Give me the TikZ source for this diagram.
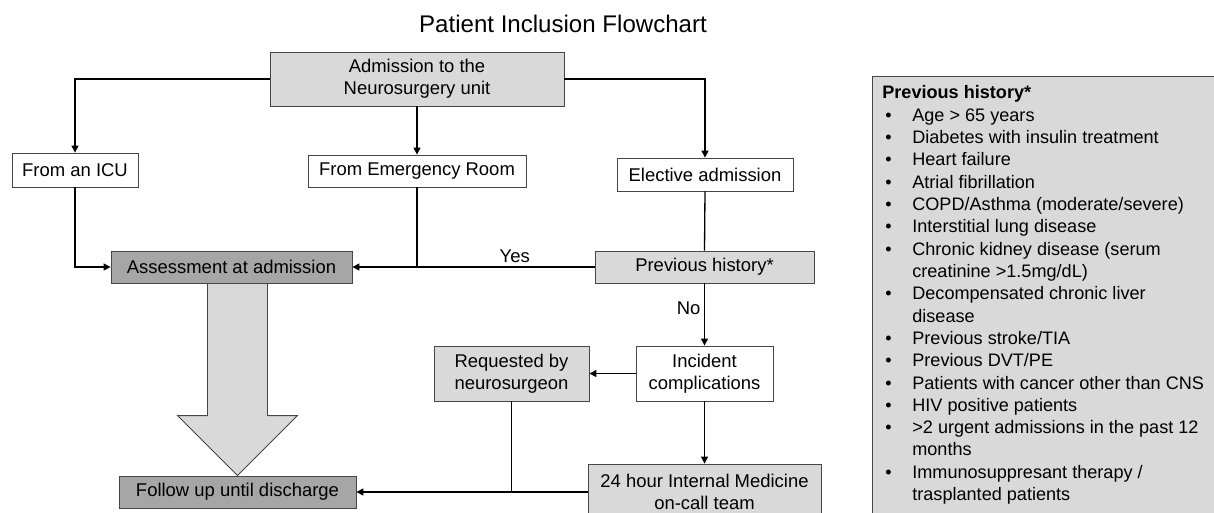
\documentclass[tikz,border=0pt]{standalone}
\usepackage{fontspec}
\setmainfont{Liberation Sans}
\usepackage{tikz}
\usetikzlibrary{calc}
\usetikzlibrary{positioning, arrows.meta}
\usepackage{xcolor}
\definecolor{lightfill}{RGB}{217,217,217}
\definecolor{darkfill}{RGB}{166,166,166}
\definecolor{edgegrey}{RGB}{70,70,70}

\begin{document}
\begin{tikzpicture}[x=0.02cm, y=-0.02cm,
    stage/.style={rectangle, draw=edgegrey, line width=0.5pt, fill=white, align=center, inner sep=0pt, font=\fontsize{10.5}{12.5}\selectfont},
    lightstage/.style={stage, fill=lightfill},
    darkstage/.style={stage, fill=darkfill},
    flow/.style={line width=0.75pt, -{Triangle[length=1.4mm, width=1.4mm]}},
    link/.style={line width=0.75pt},
    lbl/.style={font=\fontsize{10.5}{12.5}\selectfont, inner sep=2pt}]

\useasboundingbox (0,0) rectangle (1214,512);
\clip (0,0) rectangle (1214,512);

% Title
\node[font=\fontsize{13.7}{16}\selectfont, anchor=base] (title) at (563,32) {Patient Inclusion Flowchart};

% Admission
\node[lightstage, minimum width=5.88cm, minimum height=1.08cm] (adm) at (417,79) {Admission to the\\Neurosurgery unit};

% Origin of the patient
\node[stage, minimum width=2.52cm, minimum height=0.68cm] (icu) at (75,170) {From an ICU};
\node[stage, minimum width=4.36cm, minimum height=0.64cm] (er) at (417,171) {From Emergency Room};
\node[stage, minimum width=3.52cm, minimum height=0.66cm] (elective) at (705,174.5) {Elective admission};

% Assessment and history
\node[darkstage, minimum width=4.82cm, minimum height=0.64cm] (assess) at (231.5,267) {Assessment at admission};
\node[lightstage, minimum width=4.38cm, minimum height=0.64cm] (prevhist) at (704.5,267) {Previous history*};

% Complications
\node[stage, minimum width=2.74cm, minimum height=1.10cm] (incident) at (704.5,373.5) {Incident\\complications};
\node[lightstage, minimum width=3.10cm, minimum height=1.10cm] (requested) at (511.5,373.5) {Requested by\\neurosurgeon};
\node[lightstage, minimum width=4.66cm, minimum height=1.12cm] (oncall) at (704.5,492) {24 hour Internal Medicine\\on-call team};

% Follow up
\node[darkstage, minimum width=4.74cm, minimum height=0.64cm] (follow) at (237.5,492) {Follow up until discharge};

% Arrows from admission
\draw[flow] (adm.west) -| (icu.north);
\draw[flow] (adm.south) -- (er.north);
\draw[flow] (adm.east) -| (elective.north);

% Into assessment
\draw[flow] (icu.south) |- (assess.west);
\draw[flow] (er.south) |- (assess.east);
\draw[link] (prevhist.west) -- node[lbl, above, pos=0.45] (yes) {Yes} (er.south |- prevhist.west);
\draw[link] (elective.south) -- (prevhist.north);

% No history
\draw[flow] (prevhist.south) -- node[lbl, left, pos=0.4] (no) {No} (incident.north);
\draw[flow] (incident.west) -- (requested.east);
\draw[flow] (incident.south) -- (oncall.north);
\draw[flow] (oncall.west) -- (follow.east);
\draw[link] (requested.south) -- (requested.south |- follow.east);

% Big arrow from assessment to follow up
\coordinate (shafttop) at (assess.south -| follow.north);
\filldraw[fill=lightfill, draw=edgegrey, line width=0.5pt]
    ($(shafttop)+(-30,0)$) -- ($(follow.north)+(-30,-60)$) -- ($(follow.north)+(-60,-60)$)
    -- (follow.north) -- ($(follow.north)+(60,-60)$) -- ($(follow.north)+(30,-60)$)
    -- ($(shafttop)+(30,0)$) -- cycle;

% Previous history list
\filldraw[fill=lightfill, draw=edgegrey, line width=0.5pt] (872,76) rectangle (1240,540);
\node[anchor=north west, inner sep=0pt, align=left, font=\fontsize{10.3}{12.7}\selectfont] (histlist) at (882,83) {%
\begin{tabular}{@{}p{0.6cm}@{}l@{}}
\multicolumn{2}{@{}l@{}}{\textbf{Previous history*}}\\
\hspace{0.06cm}\textbullet & Age > 65 years\\
\hspace{0.06cm}\textbullet & Diabetes with insulin treatment\\
\hspace{0.06cm}\textbullet & Heart failure\\
\hspace{0.06cm}\textbullet & Atrial fibrillation\\
\hspace{0.06cm}\textbullet & COPD/Asthma (moderate/severe)\\
\hspace{0.06cm}\textbullet & Interstitial lung disease\\
\hspace{0.06cm}\textbullet & Chronic kidney disease (serum\\
 & creatinine >1.5mg/dL)\\
\hspace{0.06cm}\textbullet & Decompensated chronic liver\\
 & disease\\
\hspace{0.06cm}\textbullet & Previous stroke/TIA\\
\hspace{0.06cm}\textbullet & Previous DVT/PE\\
\hspace{0.06cm}\textbullet & Patients with cancer other than CNS\\
\hspace{0.06cm}\textbullet & HIV positive patients\\
\hspace{0.06cm}\textbullet & >2 urgent admissions in the past 12\\
 & months\\
\hspace{0.06cm}\textbullet & Immunosuppresant therapy /\\
 & trasplanted patients
\end{tabular}};

\end{tikzpicture}
\end{document}
